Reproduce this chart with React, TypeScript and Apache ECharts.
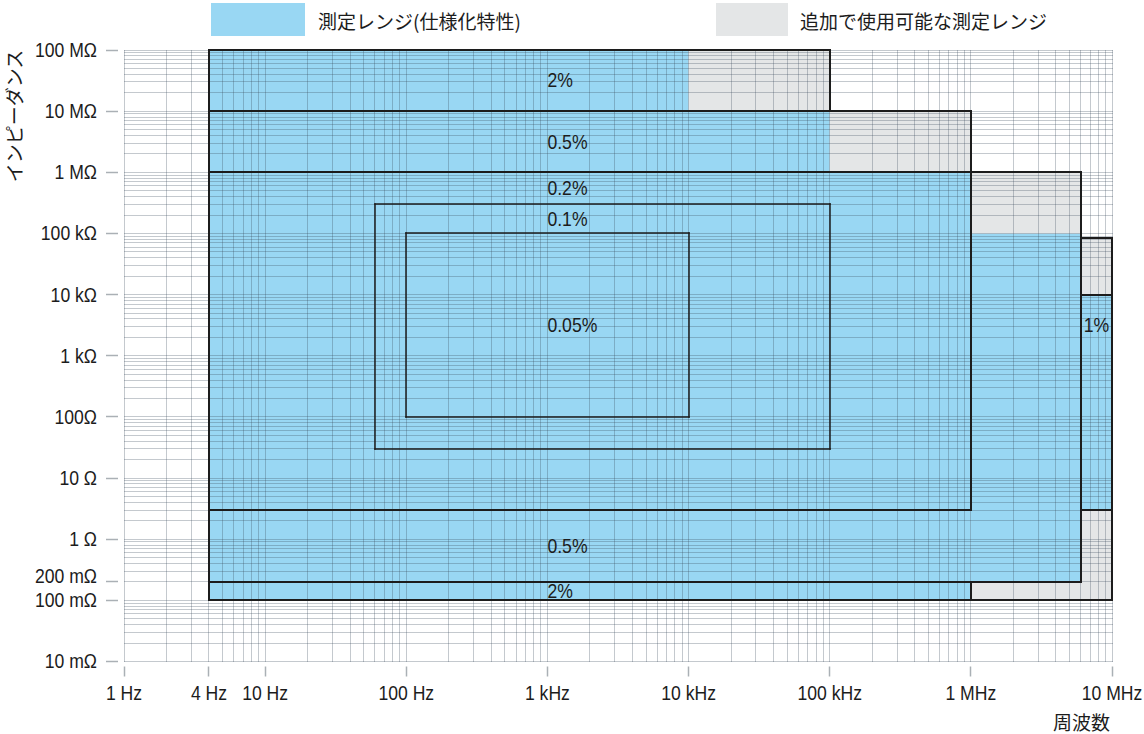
import { useEffect, useRef } from "react";
import * as echarts from "echarts";

// Axis ranges (Hz, Ω)
const FREQ_MIN = 1;
const FREQ_MAX = 1e7;
const IMP_MIN = 0.01;
const IMP_MAX = 1e8;

// Tick values and their labels
const freqTicks = [1, 4, 10, 100, 1e3, 1e4, 1e5, 1e6, 1e7];
const freqTickLabels = ["1 Hz", "4 Hz", "10 Hz", "100 Hz", "1 kHz", "10 kHz", "100 kHz", "1 MHz", "10 MHz"];
const impTicks = [1e8, 1e7, 1e6, 1e5, 1e4, 1e3, 100, 10, 1, 0.2, 0.1, 0.01];
const impTickLabels = ["100 MΩ", "10 MΩ", "1 MΩ", "100 kΩ", "10 kΩ", "1 kΩ", "100Ω", "10 Ω", "1 Ω", "200 mΩ", "100 mΩ", "10 mΩ"];

// Log paper: decades and the multipliers inside each decade
const freqDecades = [1, 10, 100, 1e3, 1e4, 1e5, 1e6];
const impDecades = [0.01, 0.1, 1, 10, 100, 1e3, 1e4, 1e5, 1e6, 1e7];
const decadeSteps = [1, 2, 3, 4, 5, 6, 7, 8, 9];

// Specified measurement ranges: [f low, f high, |Z| low, |Z| high]
const specifiedRanges = [
  [4, 1e4, 1e7, 1e8],
  [4, 1e5, 1e6, 1e7],
  [4, 1e6, 0.1, 1e6],
  [1e6, 6e6, 0.2, 1e5],
  [6e6, 1e7, 3, 1e4],
];

// Additional usable ranges: [f low, f high, |Z| low, |Z| high]
const additionalRanges = [
  [1e4, 1e5, 1e7, 1e8],
  [1e5, 1e6, 1e6, 1e7],
  [1e6, 6e6, 1e5, 1e6],
  [6e6, 1e7, 1e4, 85e3],
  [6e6, 1e7, 0.2, 3],
  [1e6, 1e7, 0.1, 0.2],
];

// Accuracy region boundaries, as [f, |Z|] corner lists
const regionBorders = [
  [[4, 1e7], [4, 1e8], [1e5, 1e8], [1e5, 1e7]],
  [[4, 1e6], [4, 1e7], [1e6, 1e7], [1e6, 1e6]],
  [[4, 3], [4, 1e6], [1e6, 1e6], [1e6, 3], [4, 3]],
  [[1e6, 1e6], [6e6, 1e6], [6e6, 0.2], [4, 0.2], [4, 3]],
  [[4, 0.2], [4, 0.1], [1e6, 0.1], [1e6, 0.2]],
  [[1e6, 0.1], [1e7, 0.1], [1e7, 85e3], [6e6, 85e3]],
  [[6e6, 1e4], [1e7, 1e4]],
  [[6e6, 3], [1e7, 3]],
];
const innerBorders = [
  [[60, 30], [60, 3e5], [1e5, 3e5], [1e5, 30], [60, 30]],
  [[100, 100], [100, 1e5], [1e4, 1e5], [1e4, 100], [100, 100]],
];

// Accuracy labels: text, frequency of the left edge, |Z| band the text is centred in
const accuracyText = ["2%", "0.5%", "0.2%", "0.1%", "0.05%", "0.5%", "2%", "1%"];
const accuracyFreq = [1e3, 1e3, 1e3, 1e3, 1e3, 1e3, 1e3, 6e6];
const accuracyBand = [
  [1e7, 1e8],
  [1e6, 1e7],
  [3e5, 1e6],
  [1e5, 3e5],
  [100, 1e5],
  [0.2, 3],
  [0.1, 0.2],
  [1e3, 1e4],
];

const legendSpecified = "測定レンジ(仕様化特性)";
const legendAdditional = "追加で使用可能な測定レンジ";
const xAxisName = "周波数";
const yAxisName = "インピーダンス";

const BLUE = "#99d7f3";
const GRAY = "#e4e6e7";
const INK = "#1c1c1c";
const TICK = "#aab0b5";
// Narrow Latin lettering: a regular sans squeezed horizontally
const LATIN = "'Liberation Sans', 'Arimo', 'DejaVu Sans', sans-serif";
const NARROW = 0.88;
const CJK = "'Noto Sans CJK JP', 'Noto Sans', sans-serif";

const snap1 = (v: number) => Math.floor(v) + 0.5;
const snap2 = (v: number) => Math.round(v);

function toSegments(lines: number[][][]) {
  const out: number[][] = [];
  lines.forEach((pts) => {
    for (let i = 1; i < pts.length; i++) {
      out.push([pts[i - 1][0], pts[i][0], pts[i - 1][1], pts[i][1]]);
    }
  });
  return out;
}

function gridSegments() {
  const segs: number[][] = [];
  const fs: number[] = [];
  freqDecades.forEach((d) => decadeSteps.forEach((m) => fs.push(d * m)));
  fs.push(FREQ_MAX);
  fs.forEach((f) => segs.push([f, f, IMP_MIN, IMP_MAX]));
  const zs: number[] = [];
  impDecades.forEach((d) => decadeSteps.forEach((m) => zs.push(d * m)));
  zs.push(IMP_MAX);
  zs.forEach((z) => segs.push([FREQ_MIN, FREQ_MAX, z, z]));
  return segs;
}

function rectSeries(data: number[][], color: string) {
  return {
    type: "custom",
    z: 1,
    silent: true,
    encode: { x: [0, 1], y: [2, 3] },
    data,
    renderItem: (_p: any, api: any) => {
      const a = api.coord([api.value(0), api.value(3)]);
      const b = api.coord([api.value(1), api.value(2)]);
      return {
        type: "rect",
        shape: { x: a[0], y: a[1], width: b[0] - a[0], height: b[1] - a[1] },
        style: { fill: color },
      };
    },
  };
}

function segmentSeries(data: number[][], color: string, width: number, z: number) {
  const snap = width % 2 === 1 ? snap1 : snap2;
  return {
    type: "custom",
    z,
    silent: true,
    clip: false,
    encode: { x: [0, 1], y: [2, 3] },
    data,
    renderItem: (_p: any, api: any) => {
      const a = api.coord([api.value(0), api.value(2)]);
      const b = api.coord([api.value(1), api.value(3)]);
      return {
        type: "line",
        shape: { x1: snap(a[0]), y1: snap(a[1]), x2: snap(b[0]), y2: snap(b[1]) },
        style: { stroke: color, lineWidth: width, lineCap: "square" },
      };
    },
  };
}

function latinText(text: string, x: number, y: number, align: string) {
  return {
    type: "text",
    x,
    y,
    scaleX: NARROW,
    style: { text, fill: INK, font: `20px ${LATIN}`, align, verticalAlign: "middle" },
  };
}

function buildOption() {
  return {
    animation: false,
    grid: { left: 124, right: 32, top: 50, bottom: 72.5 },
    xAxis: { type: "log", logBase: 10, min: FREQ_MIN, max: FREQ_MAX, show: false },
    yAxis: { type: "log", logBase: 10, min: IMP_MIN, max: IMP_MAX, show: false },
    series: [
      rectSeries(specifiedRanges, BLUE),
      rectSeries(additionalRanges, GRAY),
      segmentSeries(gridSegments(), "rgba(60,75,92,0.3)", 1, 2),
      segmentSeries(toSegments(regionBorders), INK, 2, 3),
      segmentSeries(toSegments(innerBorders), INK, 1.5, 3),
      {
        type: "custom",
        z: 4,
        silent: true,
        clip: false,
        encode: { x: 0, y: [1, 2] },
        data: accuracyFreq.map((f, i) => [f, accuracyBand[i][0], accuracyBand[i][1]]),
        renderItem: (p: any, api: any) => {
          const z = Math.sqrt(api.value(1) * api.value(2));
          const pt = api.coord([api.value(0), z]);
          const dx = p.dataIndex === accuracyText.length - 1 ? 3 : 0;
          return latinText(accuracyText[p.dataIndex], pt[0] + dx, pt[1], "left");
        },
      },
      {
        type: "custom",
        z: 4,
        silent: true,
        clip: false,
        encode: { x: 0, y: 1 },
        data: freqTicks.map((f) => [f, IMP_MIN]),
        renderItem: (p: any, api: any) => {
          const pt = api.coord([api.value(0), api.value(1)]);
          const x = snap1(pt[0]);
          return {
            type: "group",
            children: [
              {
                type: "line",
                shape: { x1: x, y1: pt[1] + 5, x2: x, y2: pt[1] + 15 },
                style: { stroke: TICK, lineWidth: 1.5 },
              },
              latinText(freqTickLabels[p.dataIndex], pt[0], pt[1] + 32, "center"),
            ],
          };
        },
      },
      {
        type: "custom",
        z: 4,
        silent: true,
        clip: false,
        encode: { x: 0, y: 1 },
        data: impTicks.map((z) => [FREQ_MIN, z]),
        renderItem: (p: any, api: any) => {
          const pt = api.coord([api.value(0), api.value(1)]);
          const y = snap1(pt[1]);
          // the 200 mΩ label sits close to 100 mΩ, lift it a little
          const lift = impTicks[p.dataIndex] === 0.2 ? -6 : 0;
          return {
            type: "group",
            children: [
              {
                type: "line",
                shape: { x1: pt[0] - 18, y1: y, x2: pt[0] - 6, y2: y },
                style: { stroke: TICK, lineWidth: 1.5 },
              },
              latinText(impTickLabels[p.dataIndex], pt[0] - 27, pt[1] + lift, "right"),
            ],
          };
        },
      },
    ],
    graphic: [
      { type: "rect", shape: { x: 211, y: 3, width: 94, height: 33 }, style: { fill: BLUE } },
      {
        type: "text",
        x: 318,
        y: 20,
        style: { text: legendSpecified, fill: INK, font: `19px ${CJK}`, verticalAlign: "middle" },
      },
      { type: "rect", shape: { x: 716, y: 3, width: 72, height: 33 }, style: { fill: GRAY } },
      {
        type: "text",
        x: 800,
        y: 20,
        style: { text: legendAdditional, fill: INK, font: `19px ${CJK}`, verticalAlign: "middle" },
      },
      {
        type: "text",
        x: 1110,
        y: 721,
        style: { text: xAxisName, fill: INK, font: `19px ${CJK}`, align: "right", verticalAlign: "middle" },
      },
      {
        type: "text",
        x: 13,
        y: 116,
        rotation: Math.PI / 2,
        style: { text: yAxisName, fill: INK, font: `19px ${CJK}`, align: "center", verticalAlign: "middle" },
      },
    ],
  };
}

export default function App() {
  const ref = useRef<HTMLDivElement>(null);
  useEffect(() => {
    if (!ref.current) return;
    const chart = echarts.init(ref.current, null, { renderer: "svg" });
    chart.setOption(buildOption() as any);
    return () => chart.dispose();
  }, []);
  return (
    <div
      ref={ref}
      style={{ position: "fixed", left: 0, top: 0, width: 1144, height: 734, background: "#fff" }}
    />
  );
}
